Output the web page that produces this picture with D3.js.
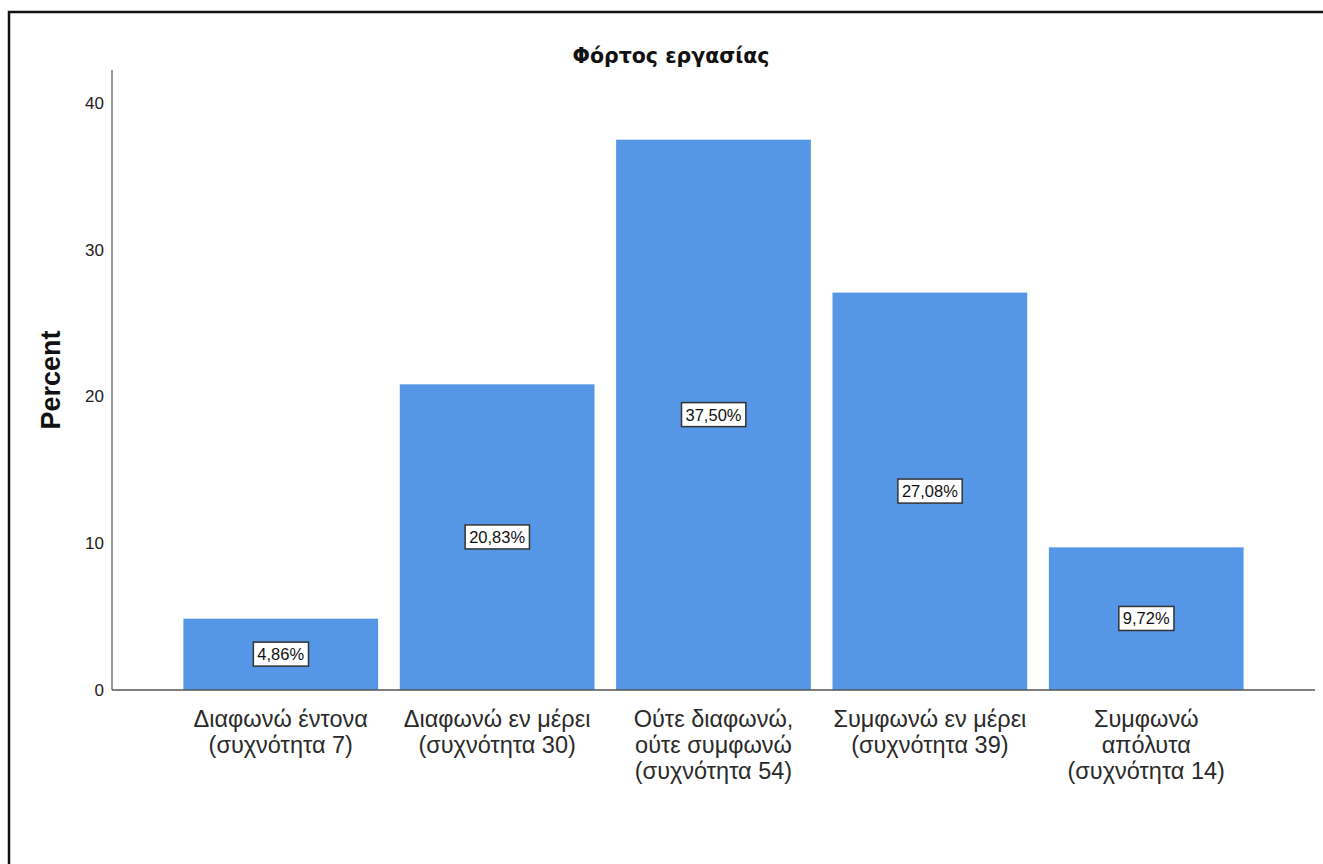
<!DOCTYPE html>
<html>
<head>
<meta charset="utf-8">
<script src="https://cdn.jsdelivr.net/npm/d3@7"></script>
<style>
  body { margin: 0; background: #fff; }
  svg { display: block; }
</style>
</head>
<body>
<div id="chart"></div>
<script>
// chart data
const categories = [
    ['Διαφωνώ έντονα', '(συχνότητα 7)'],
    ['Διαφωνώ εν μέρει', '(συχνότητα 30)'],
    ['Ούτε διαφωνώ,', 'ούτε συμφωνώ', '(συχνότητα 54)'],
    ['Συμφωνώ εν μέρει', '(συχνότητα 39)'],
    ['Συμφωνώ', 'απόλυτα', '(συχνότητα 14)']
];
const percents = [4.86, 20.83, 37.50, 27.08, 9.72];
const valueLabels = ['4,86%', '20,83%', '37,50%', '27,08%', '9,72%'];
const yTicks = [0, 10, 20, 30, 40];

const width = 1323;
const height = 864;
const left = 112, right = 1315, baseY = 690;

const svg = d3.select('#chart')
    .append('svg')
    .attr('width', width)
    .attr('height', height);

// outer frame (only top and left edges visible in the picture)
svg.append('rect')
    .attr('x', 9)
    .attr('y', 12)
    .attr('width', width + 20)
    .attr('height', height + 20)
    .attr('fill', 'none')
    .attr('stroke', '#111')
    .attr('stroke-width', 2.5);

const x = d3.scaleBand()
    .domain(d3.range(categories.length))
    .range([left, right])
    .paddingInner(0.1)
    .paddingOuter(0.33);

const y = d3.scaleLinear()
    .domain([0, 40])
    .range([baseY, 103]);

// bars
svg.selectAll('rect.bar')
    .data(percents)
    .enter()
    .append('rect')
    .attr('class', 'bar')
    .attr('x', (d, i) => x(i))
    .attr('y', d => y(d))
    .attr('width', x.bandwidth())
    .attr('height', d => baseY - y(d))
    .attr('fill', '#5596e6');

// y axis
const yAxis = svg.append('g')
    .attr('transform', `translate(${left},0)`)
    .call(d3.axisLeft(y).tickValues(yTicks).tickSize(0).tickPadding(8));
yAxis.select('.domain').remove();
yAxis.selectAll('text')
    .attr('fill', '#222')
    .style('font-family', 'Liberation Sans, Arial, sans-serif')
    .style('font-size', '17px');

svg.append('line')
    .attr('x1', left).attr('x2', left)
    .attr('y1', 70).attr('y2', baseY)
    .attr('stroke', '#999')
    .attr('stroke-width', 2);

svg.append('line')
    .attr('x1', left).attr('x2', right)
    .attr('y1', baseY).attr('y2', baseY)
    .attr('stroke', '#555')
    .attr('stroke-width', 1.5);

// category labels
const catText = svg.selectAll('text.cat')
    .data(categories)
    .enter()
    .append('text')
    .attr('class', 'cat')
    .attr('text-anchor', 'middle')
    .attr('fill', '#2a2a2a')
    .style('font-family', 'Liberation Sans, Arial, sans-serif')
    .style('font-size', '23.5px');

catText.each(function(lines, i) {
    const t = d3.select(this);
    lines.forEach((line, j) => {
        t.append('tspan')
            .attr('x', x(i) + x.bandwidth() / 2)
            .attr('y', 727 + j * 26)
            .text(line);
    });
});

// value labels in boxes
const vl = svg.selectAll('g.vlabel')
    .data(percents)
    .enter()
    .append('g')
    .attr('class', 'vlabel');

vl.append('text')
    .attr('x', (d, i) => x(i) + x.bandwidth() / 2)
    .attr('y', d => y(d / 2))
    .attr('dy', '0.35em')
    .attr('text-anchor', 'middle')
    .attr('fill', '#111')
    .style('font-family', 'Liberation Sans, Arial, sans-serif')
    .style('font-size', '16.5px')
    .text((d, i) => valueLabels[i]);

vl.each(function() {
    const g = d3.select(this);
    const bb = g.select('text').node().getBBox();
    g.insert('rect', 'text')
        .attr('x', bb.x - 4)
        .attr('y', bb.y - 3)
        .attr('width', bb.width + 8)
        .attr('height', bb.height + 6)
        .attr('fill', '#fff')
        .attr('stroke', '#333')
        .attr('stroke-width', 1.5);
});

// title
svg.append('text')
    .attr('x', 671)
    .attr('y', 63)
    .attr('text-anchor', 'middle')
    .attr('fill', '#111')
    .style('font-family', 'DejaVu Sans, sans-serif')
    .style('font-weight', 'bold')
    .style('font-size', '20.5px')
    .text('Φόρτος εργασίας');

// y axis title
svg.append('text')
    .attr('transform', 'translate(60,380) rotate(-90)')
    .attr('text-anchor', 'middle')
    .attr('fill', '#111')
    .style('font-family', 'Liberation Sans, Arial, sans-serif')
    .style('font-weight', 'bold')
    .style('font-size', '27px')
    .text('Percent');
</script>
</body>
</html>
